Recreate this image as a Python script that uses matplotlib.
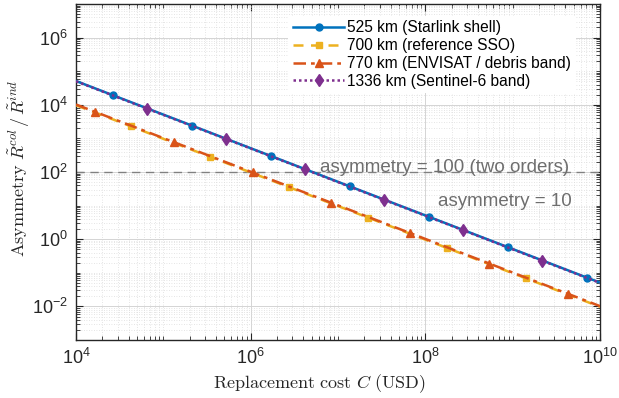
import numpy as np
import matplotlib
matplotlib.use("Agg")
import matplotlib.pyplot as plt
from matplotlib.ticker import LogLocator, NullFormatter

# values (points sit on the marker positions, plus the two ends)
labels = [
    "525 km (Starlink shell)",
    "700 km (reference SSO)",
    "770 km (ENVISAT / debris band)",
    "1336 km (Sentinel-6 band)",
]

cost_525 = [1e4, 2.64e4, 2.12e5, 1.70e6, 1.37e7, 1.10e8, 8.80e8, 7.07e9, 1e10]
asym_525 = [5.1e4, 1.93e4, 2.41e3, 300, 37.2, 4.64, 0.58, 0.072, 0.051]

cost_700 = [1e4, 4.30e4, 3.45e5, 2.77e6, 2.22e7, 1.78e8, 1.43e9, 1e10]
asym_700 = [9.7e3, 2.26e3, 281, 35, 4.37, 0.545, 0.068, 0.0097]

cost_770 = [1e4, 1.63e4, 1.31e5, 1.05e6, 8.41e6, 6.75e7, 5.42e8, 4.35e9, 1e10]
asym_770 = [1.02e4, 6.26e3, 779, 97, 12.1, 1.51, 0.188, 0.0234, 0.0102]

cost_1336 = [1e4, 6.52e4, 5.23e5, 4.20e6, 3.37e7, 2.70e8, 2.17e9, 1e10]
asym_1336 = [5.0e4, 7.67e3, 956, 119, 14.8, 1.85, 0.23, 0.05]

x_ticks = [1e4, 1e6, 1e8, 1e10]
y_ticks = [1e-2, 1e0, 1e2, 1e4, 1e6]

ref_levels = [100, 10]
ref_texts = ["asymmetry = 100 (two orders)", "asymmetry = 10"]
ref_text_x = [6.2e6, 1.4e8]

plt.rcParams["font.family"] = ["Liberation Sans", "DejaVu Sans"]
plt.rcParams["mathtext.fontset"] = "cm"

fig = plt.figure(figsize=(6.19, 3.98), dpi=100)
ax = fig.add_axes([0.1228, 0.1457, 0.8465, 0.8443])

# reference line (only the 100 level is drawn as a line)
ax.axhline(ref_levels[0], color="#808080", lw=1.0, ls=(0, (6, 4)), zorder=2)

mk_in = lambda n: list(range(1, n - 1))

ax.plot(cost_525, asym_525, color="#0072BD", lw=1.8, ls="-", marker="o", ms=5,
        markevery=mk_in(len(cost_525)), label=labels[0], zorder=3)
ax.plot(cost_700, asym_700, color="#EDB120", lw=1.8, ls=(0, (4, 3)), marker="s", ms=5,
        markevery=mk_in(len(cost_700)), label=labels[1], zorder=3)
ax.plot(cost_770, asym_770, color="#D95319", lw=1.8, ls=(0, (5, 2, 1.5, 2)), marker="^", ms=5.5,
        markevery=mk_in(len(cost_770)), label=labels[2], zorder=4)
ax.plot(cost_1336, asym_1336, color="#7E2F8E", lw=1.8, ls=(0, (1, 1.2)), marker="d", ms=6,
        markevery=mk_in(len(cost_1336)), label=labels[3], zorder=5)

for lvl, txt, tx in zip(ref_levels, ref_texts, ref_text_x):
    ax.text(tx, lvl, txt, color="#6e6e6e", fontsize=13.5, va="baseline", ha="left", zorder=6)

ax.set_xscale("log")
ax.set_yscale("log")
ax.set_xlim(1e4, 1e10)
ax.set_ylim(1e-3, 1e7)

ax.set_xticks(x_ticks)
ax.set_yticks(y_ticks)
for axis in (ax.xaxis, ax.yaxis):
    axis.set_minor_locator(LogLocator(base=10, subs=np.arange(1, 10), numticks=30))
    axis.set_minor_formatter(NullFormatter())

ax.grid(True, which="major", color="#d4d4d4", lw=0.7, ls="-")
ax.grid(True, which="minor", color="#dcdcdc", lw=0.6, ls=(0, (1, 2)))
ax.set_axisbelow(True)

ax.tick_params(which="both", direction="in", top=True, right=True, labelsize=13, colors="#262626")
ax.tick_params(which="major", length=5, width=0.8, pad=6)
ax.tick_params(which="minor", length=3, width=0.6)
for s in ax.spines.values():
    s.set_linewidth(1.0)
    s.set_color("#262626")

ax.set_xlabel(r"$\mathrm{Replacement\ cost}\ C\ \mathrm{(USD)}$", fontsize=13, color="#262626")
ax.set_ylabel(r"$\mathrm{Asymmetry}\ \tilde{R}^{col}\,/\,\tilde{R}^{ind}$", fontsize=13, color="#262626")
ax.xaxis.set_label_coords(0.464, -0.095)
ax.yaxis.set_label_coords(-0.084, 0.51)

leg = ax.legend(loc="upper left", bbox_to_anchor=(0.405, 0.965), fontsize=11.2, frameon=True,
                handlelength=3.3, labelspacing=0.18, handletextpad=0.2, borderpad=0.3,
                borderaxespad=0)
leg.get_frame().set_facecolor("white")
leg.get_frame().set_edgecolor("none")
leg.get_frame().set_alpha(1)
leg.get_frame().set_boxstyle("square", pad=0)

fig.savefig("out.png", dpi=100)
